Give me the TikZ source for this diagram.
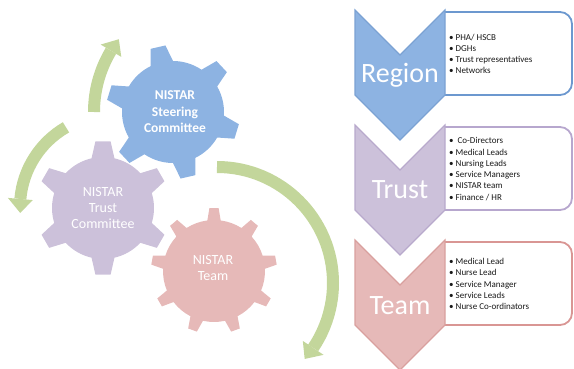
\documentclass[tikz,border=0pt]{standalone}
\usepackage{fontspec}
\setmainfont{Carlito}
\definecolor{gearblue}{HTML}{8DB3E2}
\definecolor{gearpurple}{HTML}{CCC1DA}
\definecolor{gearred}{HTML}{E6B9B8}
\definecolor{arrowgreen}{HTML}{C3D69B}
\definecolor{chevblueline}{HTML}{7BA2D3}
\definecolor{boxblueline}{HTML}{6C98CF}
\definecolor{chevpurpleline}{HTML}{B8A9CC}
\definecolor{boxpurpleline}{HTML}{B7A7CE}
\definecolor{chevredline}{HTML}{D9A09E}
\definecolor{boxredline}{HTML}{D99694}
\newcommand{\bl}[1]{\makebox[6.5pt][l]{\textbullet}#1}
\begin{document}
\begin{tikzpicture}[x=1pt,y=-1pt,
  gearlabel/.style={text=white, align=center, inner sep=0pt},
  chevlabel/.style={text=white, font=\fontsize{28}{30}\selectfont, anchor=base, inner sep=0pt},
  bullets/.style={anchor=west, align=left, inner sep=0pt, font=\fontsize{9}{11.25}\selectfont, text=black!90},
  flow/.style={line width=12pt, draw=arrowgreen},
  flowhead/.style={fill=arrowgreen},
  infobox/.style={fill=white, line width=1.8pt, rounded corners=12pt},
  chevshape/.style={line width=1.2pt}]
\useasboundingbox (0,0) rectangle (574,369);

% ---- green circular arrows ----
\begin{scope}[shift={(213,112)}]
  \draw[flow] (180:119) arc[start angle=180, end angle=211, radius=119];
  \fill[flowhead] (211:107) -- (217.7:119) -- (211:131) -- cycle;
\end{scope}
\begin{scope}[shift={(112,207)}]
  \draw[flow] (240:92) arc[start angle=240, end angle=185, radius=92];
  \fill[flowhead] (185:79.5) -- (176.3:92) -- (185:104.5) -- cycle;
\end{scope}
\begin{scope}[shift={(217,283)}]
  \draw[flow] (-90:116) arc[start angle=-90, end angle=34, radius=116];
  \fill[flowhead] (34:103.5) -- (40.9:116) -- (34:128.5) -- cycle;
\end{scope}

% ---- gears ----
\fill[gearblue, shift={(173,112)}] (-116:51)
  \foreach \a in {-103,-43,17,77,137,197}{
    -- (\a-13:51) -- (\a-6.5:67) -- (\a+6.5:67) -- (\a+13:51)
    arc[start angle=\a+13, end angle=\a+47, radius=51]} -- cycle;
\fill[gearpurple, shift={(103,208)}] (-103:51)
  \foreach \a in {-90,-30,30,90,150,210}{
    -- (\a-13:51) -- (\a-6.5:67) -- (\a+6.5:67) -- (\a+13:51)
    arc[start angle=\a+13, end angle=\a+47, radius=51]} -- cycle;
\fill[gearred, shift={(214,271)}] (-97.5:51)
  \foreach \a in {-90,-50,-10,30,70,110,150,190,230}{
    -- (\a-7.5:51) -- (\a-4.2:63) -- (\a+4.2:63) -- (\a+7.5:51)
    arc[start angle=\a+7.5, end angle=\a+32.5, radius=51]} -- cycle;

\node[gearlabel, font=\bfseries\fontsize{13.5}{16.5}\selectfont] (steer) at (175,112) {NISTAR\\Steering\\Committee};
\node[gearlabel, font=\fontsize{14}{16}\selectfont] (trustc) at (103,208) {NISTAR\\Trust\\Committee};
\node[gearlabel, font=\fontsize{14}{16}\selectfont] (teamg) at (213,268) {NISTAR\\Team};

% ---- info boxes (left side hidden under the chevrons) ----
\draw[infobox, draw=boxblueline]   (445,12)  -- (572,12)  -- (572,95)  -- (445,95);
\draw[infobox, draw=boxpurpleline] (445,127) -- (572,127) -- (572,210) -- (445,210);
\draw[infobox, draw=boxredline]    (445,242) -- (572,242) -- (572,325) -- (445,325);

% ---- chevrons ----
\draw[chevshape, fill=gearblue, draw=chevblueline]
  (355,10) -- (400,55) -- (445,10) -- (445,95) -- (400,140) -- (355,95) -- cycle;
\draw[chevshape, fill=gearpurple, draw=chevpurpleline]
  (355,125) -- (400,170) -- (445,125) -- (445,210) -- (400,255) -- (355,210) -- cycle;
\draw[chevshape, fill=gearred, draw=chevredline]
  (355,240) -- (400,285) -- (445,240) -- (445,325) -- (400,370) -- (355,325) -- cycle;

\node[chevlabel] (region) at (400,83) {Region};
\node[chevlabel] (trust) at (400,198) {Trust};
\node[chevlabel] (team) at (400,314) {Team};

\node[bullets] (regionlist) at (449,54) {\bl{PHA/ HSCB}\\\bl{DGHs}\\\bl{Trust representatives}\\\bl{Networks}};
\node[bullets] (trustlist) at (449,169) {\bl{\hspace{2pt}Co-Directors}\\\bl{Medical Leads}\\\bl{Nursing Leads}\\\bl{Service Managers}\\\bl{NISTAR team}\\\bl{Finance / HR}};
\node[bullets] (teamlist) at (449,284) {\bl{Medical Lead}\\\bl{Nurse Lead}\\\bl{Service Manager}\\\bl{Service Leads}\\\bl{Nurse Co-ordinators}};
\end{tikzpicture}
\end{document}
